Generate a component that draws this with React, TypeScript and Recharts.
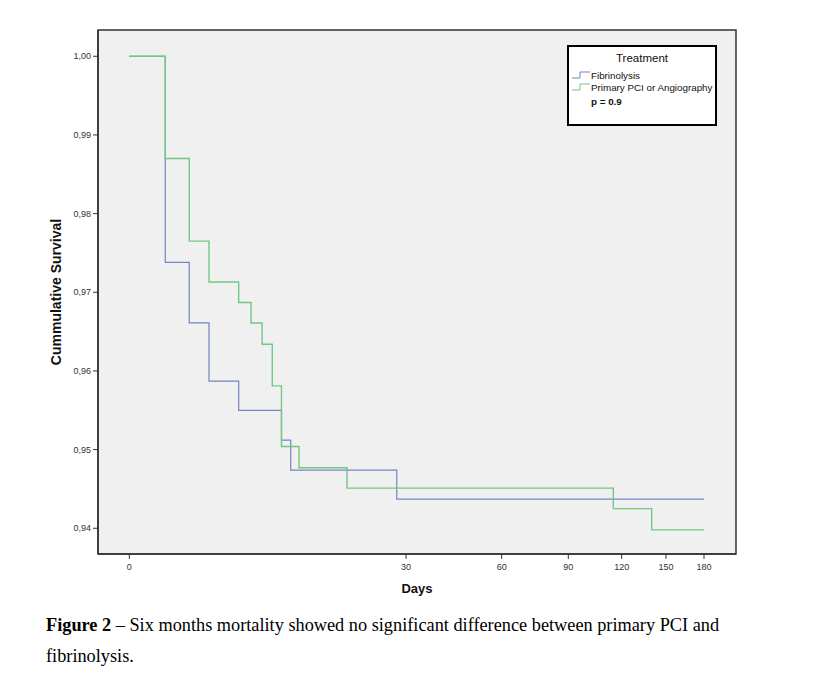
import React from 'react'
import { LineChart, Line, XAxis, YAxis, CartesianGrid, ReferenceArea, Legend } from 'recharts'

// days at which each curve steps, and survival after the step
const fibDays = [0, 3.9, 6.5, 8.64, 11.86, 16.5, 17.5, 29.0, 180]
const fibSurv = [1.0, 0.9738, 0.9661, 0.9587, 0.955, 0.9512, 0.9474, 0.9437, 0.9437]

const pciDays = [0, 3.9, 6.5, 8.64, 11.86, 13.2, 14.4, 15.5, 16.5, 18.4, 23.6, 115.3, 140.3, 180]
const pciSurv = [1.0, 0.987, 0.9765, 0.9713, 0.9687, 0.9661, 0.9634, 0.9581, 0.9504, 0.9477, 0.9451, 0.9425, 0.9398, 0.9398]

// the original time axis is stretched; tick days and where they sit on it
const xTickDays = [0, 30, 60, 90, 120, 150, 180]
const xTickPos = [0, 276.7, 372.4, 439, 492.4, 536.7, 574.7]
const yTicks = [0.94, 0.95, 0.96, 0.97, 0.98, 0.99, 1.0]

const X_DOMAIN: [number, number] = [-31.3, 606.7]
const Y_DOMAIN: [number, number] = [0.93673, 1.00334]

const BLUE = '#7484c2'
const GREEN = '#72c882'
const FONT = '"Liberation Sans", Arial, sans-serif'
const TICK_STYLE = { fontSize: 9, fill: '#333', fontFamily: FONT }

function dayToPos(d: number) {
  for (let i = 1; i < xTickDays.length; i++) {
    if (d <= xTickDays[i]) {
      const t = (d - xTickDays[i - 1]) / (xTickDays[i] - xTickDays[i - 1])
      return xTickPos[i - 1] + t * (xTickPos[i] - xTickPos[i - 1])
    }
  }
  return xTickPos[xTickPos.length - 1]
}

const fibData = fibDays.map((d, i) => ({ pos: dayToPos(d), surv: fibSurv[i] }))
const pciData = pciDays.map((d, i) => ({ pos: dayToPos(d), surv: pciSurv[i] }))

function StepIcon({ color }: { color: string }) {
  return (
    <svg width={20} height={8} style={{ display: 'block' }}>
      <polyline points="1,7 9,7 9,1 19,1" fill="none" stroke={color} strokeWidth={1} />
    </svg>
  )
}

function LegendBox() {
  const row: React.CSSProperties = { display: 'flex', alignItems: 'center', height: 12, fontSize: 9.8, color: '#111' }
  return (
    <div style={{ width: 146, height: 77, border: '2px solid #000', background: '#fff', boxSizing: 'content-box', fontFamily: FONT }}>
      <div style={{ textAlign: 'center', fontSize: 11.5, marginTop: 5, marginBottom: 5, color: '#111' }}>Treatment</div>
      <div style={row}><span style={{ marginLeft: 2 }}><StepIcon color={BLUE} /></span>Fibrinolysis</div>
      <div style={row}><span style={{ marginLeft: 2 }}><StepIcon color={GREEN} /></span>Primary PCI or Angiography</div>
      <div style={{ ...row, marginLeft: 22, marginTop: 2, fontWeight: 'bold' }}>p = 0.9</div>
    </div>
  )
}

export default function App() {
  return (
    <div style={{ position: 'absolute', left: 0, top: 0, width: 813, height: 695, background: '#fff' }}>
      <LineChart width={813} height={600} margin={{ top: 30, right: 77, bottom: 16, left: 38 }}>
        <CartesianGrid horizontal={false} vertical={false} fill="#f0f0f0" />
        <ReferenceArea x1={X_DOMAIN[0]} x2={X_DOMAIN[1]} y1={Y_DOMAIN[0]} y2={Y_DOMAIN[1]}
          fill="#f0f0f0" fillOpacity={1} stroke="#333" strokeWidth={1.5} ifOverflow="visible" />
        <XAxis type="number" dataKey="pos" domain={X_DOMAIN} allowDataOverflow ticks={xTickPos}
          tickFormatter={(v: number) => String(xTickDays[xTickPos.indexOf(v)] ?? '')}
          tick={TICK_STYLE} tickSize={5} tickMargin={5} height={30}
          axisLine={{ stroke: '#333', strokeWidth: 1.5 }} tickLine={{ stroke: '#333' }}
          label={{
            content: ({ viewBox }: any) => (
              <text x={viewBox.x + viewBox.width / 2} y={viewBox.y + 39} textAnchor="middle"
                fontSize={13} fontWeight="bold" fontFamily={FONT} fill="#111">Days</text>
            ),
          }}
        />
        <YAxis type="number" dataKey="surv" domain={Y_DOMAIN} allowDataOverflow ticks={yTicks}
          tickFormatter={(v: number) => v.toFixed(2).replace('.', ',')}
          tick={TICK_STYLE} tickSize={5} tickMargin={2} width={60}
          axisLine={{ stroke: '#333', strokeWidth: 1.5 }} tickLine={{ stroke: '#333' }}
          label={{
            content: ({ viewBox }: any) => {
              const cx = viewBox.x + 18
              const cy = viewBox.y + viewBox.height / 2
              return (
                <text x={cx} y={cy} transform={`rotate(-90 ${cx} ${cy})`} textAnchor="middle" dominantBaseline="central"
                  fontSize={14} fontWeight="bold" fontFamily={FONT} fill="#111">Cummulative Survival</text>
              )
            },
          }}
        />
        <Legend layout="vertical" align="center" verticalAlign="middle"
          wrapperStyle={{ left: 567, top: 45, width: 150 }} content={() => <LegendBox />} />
        <Line data={fibData} dataKey="surv" name="Fibrinolysis" type="stepAfter" stroke={BLUE}
          strokeWidth={1.2} dot={false} isAnimationActive={false} />
        <Line data={pciData} dataKey="surv" name="Primary PCI or Angiography" type="stepAfter" stroke={GREEN}
          strokeWidth={1.4} dot={false} isAnimationActive={false} />
      </LineChart>
      <div style={{ position: 'absolute', left: 46, top: 610, width: 690, fontFamily: '"Liberation Serif", "Times New Roman", serif', fontSize: 18.3, lineHeight: '31px', color: '#000' }}>
        <span style={{ fontWeight: 'bold' }}>Figure 2</span>
        <span> – Six months mortality showed no significant difference between primary PCI and fibrinolysis.</span>
      </div>
    </div>
  )
}
